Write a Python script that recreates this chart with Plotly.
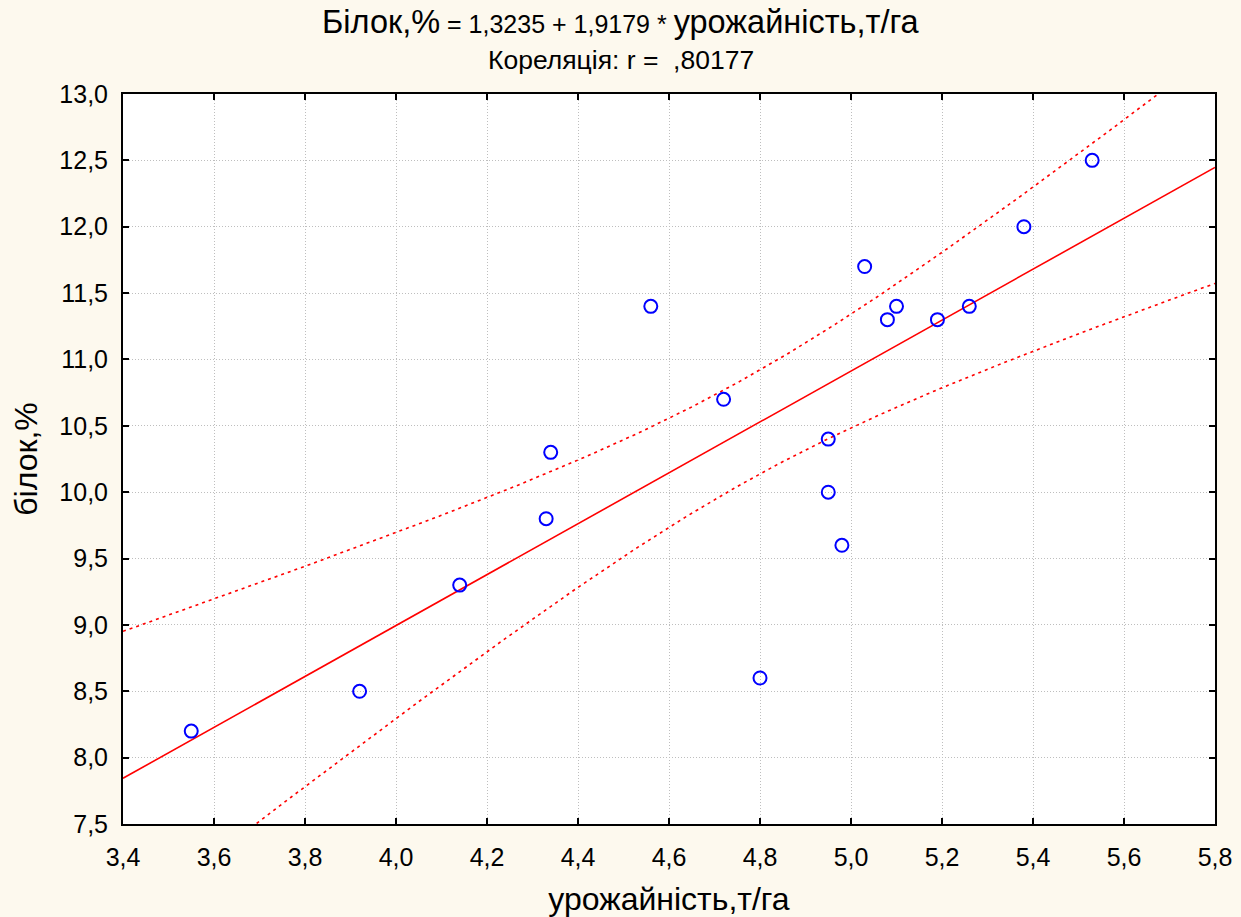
import numpy as np
import plotly.graph_objects as go

# Data
yield_t_ha = [3.55, 3.92, 4.14, 4.33, 4.34, 4.56, 4.72, 4.80, 4.95, 4.95,
              4.98, 5.03, 5.08, 5.10, 5.19, 5.26, 5.38, 5.53]
protein_pct = [8.2, 8.5, 9.3, 9.8, 10.3, 11.4, 10.7, 8.6, 10.4, 10.0,
               9.6, 11.7, 11.3, 11.4, 11.3, 11.4, 12.0, 12.5]

x_ticks = [3.4, 3.6, 3.8, 4.0, 4.2, 4.4, 4.6, 4.8, 5.0, 5.2, 5.4, 5.6, 5.8]
y_ticks = [7.5, 8.0, 8.5, 9.0, 9.5, 10.0, 10.5, 11.0, 11.5, 12.0, 12.5, 13.0]

intercept = 1.3235
slope = 1.9179

# Regression line and 95% confidence band for the mean
x = np.array(yield_t_ha)
y = np.array(protein_pct)
n = len(x)
xs = np.linspace(3.4, 5.8, 300)
fit = intercept + slope * xs
resid = y - (intercept + slope * x)
s = np.sqrt(np.sum(resid ** 2) / (n - 2))
t_crit = 2.1199
se = s * np.sqrt(1.0 / n + (xs - x.mean()) ** 2 / np.sum((x - x.mean()) ** 2))
upper = fit + t_crit * se
lower = fit - t_crit * se

fig = go.Figure()
fig.add_trace(go.Scatter(x=xs, y=upper, mode="lines",
                         line=dict(color="#FF0000", width=1.6, dash="3px,4px"),
                         hoverinfo="skip"))
fig.add_trace(go.Scatter(x=xs, y=lower, mode="lines",
                         line=dict(color="#FF0000", width=1.6, dash="3px,4px"),
                         hoverinfo="skip"))
fig.add_trace(go.Scatter(x=xs, y=fit, mode="lines",
                         line=dict(color="#FF0000", width=1.6),
                         hoverinfo="skip"))
fig.add_trace(go.Scatter(x=yield_t_ha, y=protein_pct, mode="markers",
                         marker=dict(symbol="circle-open", size=13, color="#0000FF",
                                     line=dict(width=2, color="#0000FF")),
                         cliponaxis=False))

font_family = "Liberation Sans, Arial, sans-serif"
paper = "#FDF9EE"

fig.update_layout(
    width=1241, height=917,
    paper_bgcolor=paper,
    plot_bgcolor="#FFFFFF",
    showlegend=False,
    separators=", ",
    font=dict(family=font_family, color="#000000"),
    margin=dict(l=123, r=26, t=94, b=93),
)
# centre of the page expressed in plot-area (paper) coordinates
x_page_center = (1241 / 2 - 123) / (1241 - 123 - 26)
fig.add_annotation(
    text="<span style='font-size:32.5px'>Білок,%</span> = 1,3235 + 1,9179 * "
         "<span style='font-size:32.5px'>урожайність,т/га</span>",
    xref="paper", yref="paper", x=x_page_center, y=1.0, yshift=72,
    xanchor="center", yanchor="middle", showarrow=False,
    font=dict(size=25, family=font_family, color="#000000"))
fig.add_annotation(
    text="Кореляція: r =  ,80177",
    xref="paper", yref="paper", x=x_page_center, y=1.0, yshift=34,
    xanchor="center", yanchor="middle", showarrow=False,
    font=dict(size=26.5, family=font_family, color="#000000"))

axis_common = dict(
    showline=True, linecolor="#000000", linewidth=2, mirror="ticks",
    ticks="inside", ticklen=6, tickwidth=1.5, tickcolor="#000000",
    showgrid=True, gridcolor="#BEBEBE", griddash="1px,2px", gridwidth=1,
    zeroline=False, tickfont=dict(size=25, family=font_family, color="#000000"),
    tickformat=".1f", automargin=False,
)
fig.update_xaxes(range=[3.4, 5.8], tickvals=x_ticks, ticklabelstandoff=10,
                 **axis_common,
                 title=dict(text="урожайність,т/га", standoff=20,
                            font=dict(size=32, family=font_family)))
fig.update_yaxes(range=[7.5, 13.0], tickvals=y_ticks, ticklabelstandoff=8,
                 **axis_common,
                 title=dict(text="білок,%", standoff=12,
                            font=dict(size=32, family=font_family)))

fig.write_html(
    "out.html",
    config={"displayModeBar": False},
    post_script="document.body.style.margin='0';"
                "document.body.style.background='" + paper + "';",
)
